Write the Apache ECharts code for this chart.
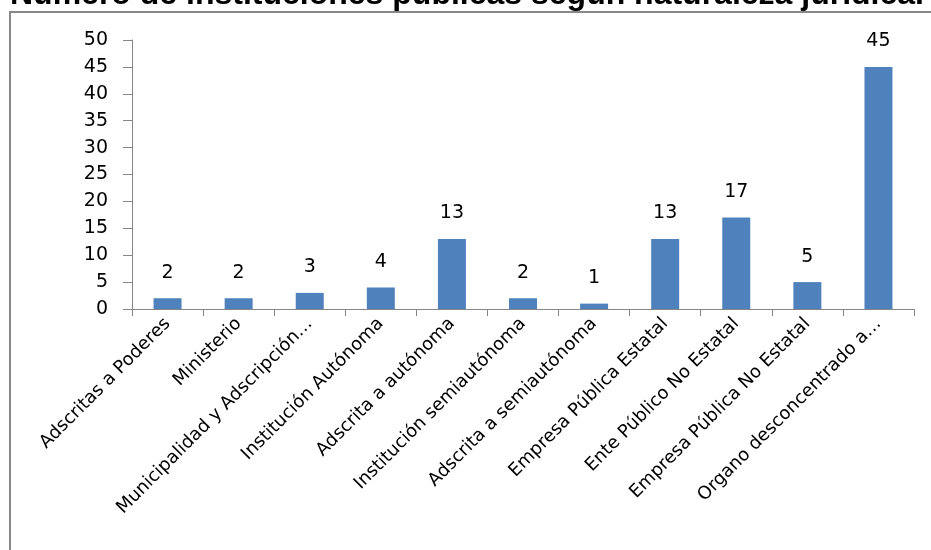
<!DOCTYPE html>
<html><head><meta charset="utf-8">
<script src="https://cdn.jsdelivr.net/npm/echarts@6/dist/echarts.min.js"></script>
<style>html,body{margin:0;padding:0;background:#fff}#c{width:931px;height:550px}</style>
</head><body><div id="c"></div>
<script>
const titleText = 'Número de instituciones públicas según naturaleza jurídica.';
const categories = ['Adscritas a Poderes','Ministerio','Municipalidad y Adscripción…','Institución Autónoma','Adscrita a autónoma','Institución semiautónoma','Adscrita a semiautónoma','Empresa Pública Estatal','Ente Público No Estatal','Empresa Pública No Estatal','Organo desconcentrado a…'];
const values = [2,2,3,4,13,2,1,13,17,5,45];
const yTicks = {min:0, max:50, interval:5};

const FONT = '"DejaVu Sans", "Noto Sans", sans-serif';
const chart = echarts.init(document.getElementById('c'));
chart.setOption({
  animation:false,
  backgroundColor:'#fff',
  graphic:[
    {type:'rect', shape:{x:10,y:12,width:940,height:560}, style:{fill:'none',stroke:'#888',lineWidth:2}, z:-1},
    {type:'text', x:10, y:-5, style:{text:titleText, font:'bold 32px "Liberation Sans", Arial', fill:'#000', verticalAlign:'middle', align:'left'}}
  ],
  grid:{left:132,right:17,top:40,bottom:241,containLabel:false},
  xAxis:{type:'category',data:categories,
    axisLine:{lineStyle:{color:'#868686',width:1}},
    axisTick:{show:true,length:7,lineStyle:{color:'#868686'}},
    axisLabel:{rotate:45,interval:0,color:'#000',fontSize:18,fontFamily:FONT,margin:12}
  },
  yAxis:{type:'value',min:yTicks.min,max:yTicks.max,interval:yTicks.interval,
    axisLine:{show:true,lineStyle:{color:'#868686'}},
    axisTick:{show:true,length:9,lineStyle:{color:'#868686'}},
    splitLine:{show:false},
    axisLabel:{color:'#000',fontSize:19,fontFamily:FONT,margin:24}
  },
  series:[{type:'bar',data:values,barWidth:28,itemStyle:{color:'#4F81BD'},
    label:{show:true,position:'top',distance:16,color:'#000',fontSize:19,fontFamily:FONT}
  }]
});
</script></body></html>
